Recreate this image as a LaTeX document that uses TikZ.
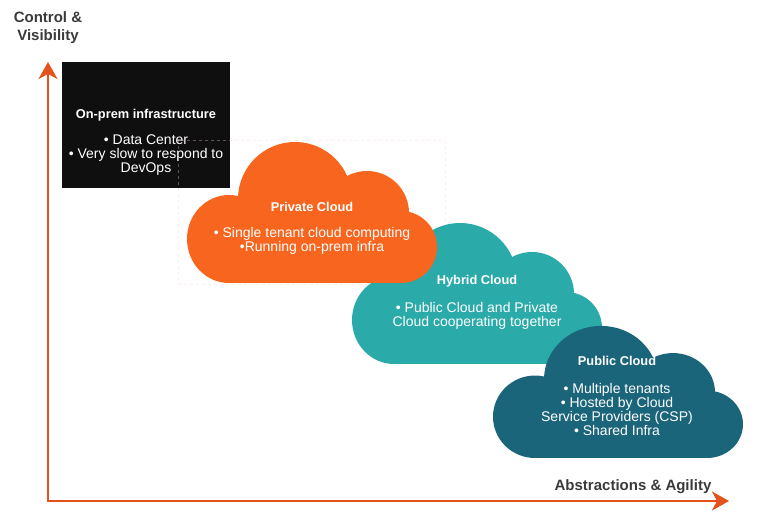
\documentclass[tikz,border=0pt]{standalone}
\usepackage{fontspec}
\setmainfont{Liberation Sans}
\usetikzlibrary{arrows.meta}
\definecolor{axisc}{HTML}{E4531C}
\definecolor{privc}{HTML}{F7651F}
\definecolor{hybc}{HTML}{2AAAA9}
\definecolor{pubc}{HTML}{1B657B}
\definecolor{boxc}{HTML}{0F0F0F}
\definecolor{lblc}{HTML}{3A3A3A}
\definecolor{dashc}{HTML}{FAD3C4}
\tikzset{
 axisline/.style={draw=axisc, line width=2.4pt, line cap=rect, -{Stealth[length=17pt,width=19pt,inset=5pt]}},
 ttl/.style={text=white, font=\fontsize{12.8}{14}\selectfont\bfseries, inner sep=0pt},
 body/.style={text=white, font=\fontsize{14}{14}\selectfont, align=center, inner sep=0pt},
 axlbl/.style={text=lblc, font=\fontsize{15}{18}\selectfont\bfseries, align=center, inner sep=0pt},
}
\newcommand\mycloud[4]{%
  \begin{scope}[shift={(#1,#2)}, yscale=#3]
    \fill[#4] (42,44) ellipse [x radius=42, y radius=44];
    \fill[#4] (108,84) circle [radius=57];
    \fill[#4] (180,70) circle [radius=42];
    \fill[#4] (214,36) circle [radius=36];
    \fill[#4] (42,0) rectangle (214,72);
  \end{scope}}
\begin{document}
\begin{tikzpicture}[x=1pt, y=-1pt]
\useasboundingbox (0,0) rectangle (757,532);
% axes
\coordinate (o) at (48,501);
\coordinate (ytip) at (48,62);
\coordinate (xtip) at (729,501);
\draw[axisline] (o) -- (ytip);
\draw[axisline] (o) -- (xtip);
\node[axlbl] (ylbl) at (48,28) {Control \&\\Visibility};
\node[axlbl] (xlbl) at (633,487) {Abstractions \& Agility};
% on-prem box
\node[fill=boxc, minimum width=168pt, minimum height=126pt, anchor=north west, inner sep=0pt] (onprem) at (62,62) {};
\node[draw=dashc, draw opacity=0.35, dash pattern=on 3pt off 3pt, line width=0.5pt, minimum width=267pt, minimum height=144pt, anchor=north west, inner sep=0pt] (frame) at (178,140) {};
% clouds
\mycloud{352}{364}{-1}{hybc}
\mycloud{187}{283}{-1}{privc}
\mycloud{493}{458}{-0.937}{pubc}
% texts
\node[ttl] (t1) at (146,115) {On-prem infrastructure};
\node[body] (b1) at (146,155) {• Data Center\\• Very slow to respond to\\DevOps};
\node[ttl] (t2) at (312,207) {Private Cloud};
\node[body] (b2) at (312,241) {• Single tenant cloud computing\\•Running on-prem infra};
\node[ttl] (t3) at (477,281) {Hybrid Cloud};
\node[body] (b3) at (477,315.5) {• Public Cloud and Private\\Cloud cooperating together};
\node[ttl] (t4) at (617,361) {Public Cloud};
\node[body] (b4) at (617,409) {• Multiple tenants\\• Hosted by Cloud\\Service Providers (CSP)\\• Shared Infra};
\end{tikzpicture}
\end{document}
